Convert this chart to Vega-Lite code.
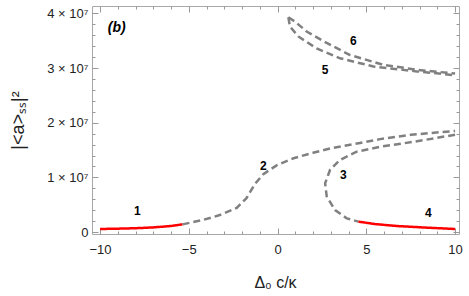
{
  "$schema": "https://vega.github.io/schema/vega-lite/v6.json",
  "width": 367,
  "height": 228,
  "autosize": {"type": "none"},
  "padding": {"left": 92, "top": 6, "right": 10, "bottom": 62},
  "background": "white",
  "config": {
    "view": {"stroke": "#a8a8a8", "strokeWidth": 1},
    "font": "Liberation Sans",
    "axis": {
      "domain": false,
      "grid": false,
      "tickColor": "#999999",
      "tickWidth": 1,
      "labelFont": "Liberation Sans",
      "labelFontSize": 13,
      "labelColor": "#222222",
      "labelOverlap": false,
      "titleFont": "Liberation Sans",
      "titleFontWeight": "normal",
      "titleColor": "#222222"
    }
  },
  "datasets": {
    "curves": [
      {"series": "1", "kind": "stable", "i": 0, "x": -10, "y": 550000},
      {"series": "1", "kind": "stable", "i": 1, "x": -9, "y": 610000},
      {"series": "1", "kind": "stable", "i": 2, "x": -8, "y": 690000},
      {"series": "1", "kind": "stable", "i": 3, "x": -7, "y": 840000},
      {"series": "1", "kind": "stable", "i": 4, "x": -6, "y": 1100000},
      {"series": "1", "kind": "stable", "i": 5, "x": -5.35, "y": 1400000},
      {"series": "2", "kind": "unstable", "i": 0, "x": -5.35, "y": 1400000},
      {"series": "2", "kind": "unstable", "i": 1, "x": -4.2, "y": 2200000},
      {"series": "2", "kind": "unstable", "i": 2, "x": -3.25, "y": 3100000},
      {"series": "2", "kind": "unstable", "i": 3, "x": -2.3, "y": 4400000},
      {"series": "2", "kind": "unstable", "i": 4, "x": -1.75, "y": 6200000},
      {"series": "2", "kind": "unstable", "i": 5, "x": -1.27, "y": 8800000},
      {"series": "2", "kind": "unstable", "i": 6, "x": -0.8, "y": 10600000},
      {"series": "2", "kind": "unstable", "i": 7, "x": -0.05, "y": 12200000},
      {"series": "2", "kind": "unstable", "i": 8, "x": 0.9, "y": 13500000},
      {"series": "2", "kind": "unstable", "i": 9, "x": 2.0, "y": 14500000},
      {"series": "2", "kind": "unstable", "i": 10, "x": 2.96, "y": 15300000},
      {"series": "2", "kind": "unstable", "i": 11, "x": 4.65, "y": 16300000},
      {"series": "2", "kind": "unstable", "i": 12, "x": 5.77, "y": 17000000},
      {"series": "2", "kind": "unstable", "i": 13, "x": 7.5, "y": 17800000},
      {"series": "2", "kind": "unstable", "i": 14, "x": 10, "y": 18500000},
      {"series": "3", "kind": "unstable", "i": 0, "x": 10, "y": 17800000},
      {"series": "3", "kind": "unstable", "i": 1, "x": 7.65, "y": 16500000},
      {"series": "3", "kind": "unstable", "i": 2, "x": 5.77, "y": 15600000},
      {"series": "3", "kind": "unstable", "i": 3, "x": 4.46, "y": 14700000},
      {"series": "3", "kind": "unstable", "i": 4, "x": 3.52, "y": 13200000},
      {"series": "3", "kind": "unstable", "i": 5, "x": 2.96, "y": 11400000},
      {"series": "3", "kind": "unstable", "i": 6, "x": 2.68, "y": 8900000},
      {"series": "3", "kind": "unstable", "i": 7, "x": 2.77, "y": 6500000},
      {"series": "3", "kind": "unstable", "i": 8, "x": 3.24, "y": 4000000},
      {"series": "3", "kind": "unstable", "i": 9, "x": 3.9, "y": 2500000},
      {"series": "3", "kind": "unstable", "i": 10, "x": 4.55, "y": 1900000},
      {"series": "4", "kind": "stable", "i": 0, "x": 4.55, "y": 1900000},
      {"series": "4", "kind": "stable", "i": 1, "x": 5.5, "y": 1450000},
      {"series": "4", "kind": "stable", "i": 2, "x": 6.7, "y": 1100000},
      {"series": "4", "kind": "stable", "i": 3, "x": 8.4, "y": 800000},
      {"series": "4", "kind": "stable", "i": 4, "x": 10, "y": 550000},
      {"series": "5", "kind": "unstable", "i": 0, "x": 0.61, "y": 39300000},
      {"series": "5", "kind": "unstable", "i": 1, "x": 0.7, "y": 37600000},
      {"series": "5", "kind": "unstable", "i": 2, "x": 1.17, "y": 35800000},
      {"series": "5", "kind": "unstable", "i": 3, "x": 2.2, "y": 33600000},
      {"series": "5", "kind": "unstable", "i": 4, "x": 3.52, "y": 31800000},
      {"series": "5", "kind": "unstable", "i": 5, "x": 5.4, "y": 30300000},
      {"series": "5", "kind": "unstable", "i": 6, "x": 7.84, "y": 29400000},
      {"series": "5", "kind": "unstable", "i": 7, "x": 10, "y": 28700000},
      {"series": "6", "kind": "unstable", "i": 0, "x": 0.61, "y": 39300000},
      {"series": "6", "kind": "unstable", "i": 1, "x": 0.99, "y": 38500000},
      {"series": "6", "kind": "unstable", "i": 2, "x": 1.64, "y": 36700000},
      {"series": "6", "kind": "unstable", "i": 3, "x": 2.77, "y": 34600000},
      {"series": "6", "kind": "unstable", "i": 4, "x": 4.08, "y": 32400000},
      {"series": "6", "kind": "unstable", "i": 5, "x": 5.96, "y": 30600000},
      {"series": "6", "kind": "unstable", "i": 6, "x": 7.84, "y": 29700000},
      {"series": "6", "kind": "unstable", "i": 7, "x": 10, "y": 29000000}
    ],
    "labels": [
      {"label": "1", "x": -7.9, "y": 3850000},
      {"label": "2", "x": -0.8, "y": 12000000},
      {"label": "3", "x": 3.7, "y": 10400000},
      {"label": "4", "x": 8.5, "y": 3500000},
      {"label": "5", "x": 2.68, "y": 29700000},
      {"label": "6", "x": 4.27, "y": 34900000}
    ],
    "panel": [
      {"label": "(b)", "x": -9.06, "y": 37300000}
    ]
  },
  "layer": [
    {
      "data": {"name": "curves"},
      "mark": {"type": "line", "strokeWidth": 2.5, "clip": true},
      "encoding": {
        "x": {
          "field": "x", "type": "quantitative",
          "scale": {"domain": [-10.45, 10.22], "nice": false, "zero": false},
          "axis": {
            "orient": "bottom",
            "values": [-10,-9,-8,-7,-6,-5,-4,-3,-2,-1,0,1,2,3,4,5,6,7,8,9,10],
            "tickSize": {"condition": {"test": "datum.value % 5 === 0", "value": -6}, "value": -3},
            "labelExpr": "datum.value % 5 === 0 ? datum.label : ''",
            "labelPadding": 15,
            "title": "Δ₀ c/κ",
            "titleFontSize": 16,
            "titleBaseline": "middle",
            "titleX": 183,
            "titleY": 48
          }
        },
        "y": {
          "field": "y", "type": "quantitative",
          "scale": {"domain": [-366000, 41370000], "nice": false, "zero": false},
          "axis": {
            "orient": "left",
            "values": [0,2000000,4000000,6000000,8000000,10000000,12000000,14000000,16000000,18000000,20000000,22000000,24000000,26000000,28000000,30000000,32000000,34000000,36000000,38000000,40000000],
            "tickSize": {"condition": {"test": "datum.value % 10000000 === 0", "value": -6}, "value": -3},
            "labelExpr": "datum.value % 10000000 === 0 ? (datum.value === 0 ? '0' : format(datum.value / 10000000, 'd') + ' × 10⁷') : ''",
            "labelPadding": 10,
            "title": "|<a>ₛₛ|²",
            "titleFontSize": 18,
            "titleAngle": -90,
            "titleBaseline": "middle",
            "titleX": -74,
            "titleY": 114
          }
        },
        "detail": {"field": "series"},
        "order": {"field": "i", "type": "quantitative"},
        "color": {
          "field": "kind", "type": "nominal",
          "scale": {"domain": ["stable", "unstable"], "range": ["#ff0000", "#808080"]},
          "legend": null
        },
        "strokeDash": {
          "field": "kind", "type": "nominal",
          "scale": {"domain": ["stable", "unstable"], "range": [[1, 0], [7, 4]]},
          "legend": null
        }
      }
    },
    {
      "data": {"name": "labels"},
      "mark": {"type": "text", "fontWeight": "bold", "fontSize": 12, "font": "Liberation Sans", "color": "#000000"},
      "encoding": {
        "x": {
          "field": "x", "type": "quantitative",
          "axis": {
            "orient": "top",
            "values": [-10,-9,-8,-7,-6,-5,-4,-3,-2,-1,0,1,2,3,4,5,6,7,8,9,10],
            "tickSize": {"condition": {"test": "datum.value % 5 === 0", "value": -6}, "value": -3},
            "labels": false,
            "title": null
          }
        },
        "y": {
          "field": "y", "type": "quantitative",
          "axis": {
            "orient": "right",
            "values": [0,2000000,4000000,6000000,8000000,10000000,12000000,14000000,16000000,18000000,20000000,22000000,24000000,26000000,28000000,30000000,32000000,34000000,36000000,38000000,40000000],
            "tickSize": {"condition": {"test": "datum.value % 10000000 === 0", "value": -6}, "value": -3},
            "labels": false,
            "title": null
          }
        },
        "text": {"field": "label"}
      }
    },
    {
      "data": {"name": "panel"},
      "mark": {"type": "text", "fontWeight": "bold", "fontStyle": "italic", "fontSize": 14, "font": "Liberation Sans", "color": "#000000"},
      "encoding": {
        "x": {"field": "x", "type": "quantitative", "axis": null},
        "y": {"field": "y", "type": "quantitative", "axis": null},
        "text": {"field": "label"}
      }
    }
  ],
  "resolve": {"axis": {"x": "independent", "y": "independent"}}
}
